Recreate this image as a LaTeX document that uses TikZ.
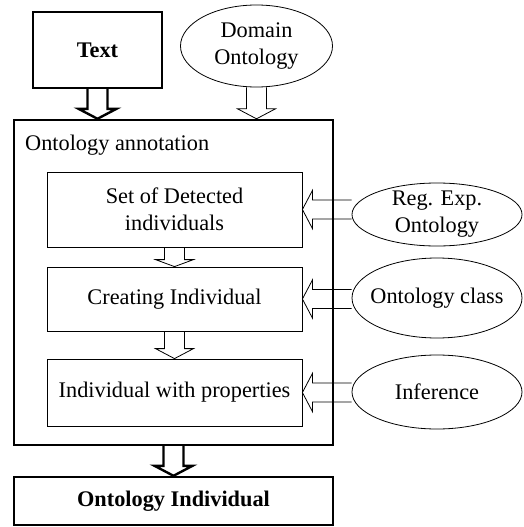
\documentclass[tikz,border=0pt]{standalone}
\usepackage{fontspec}
\setmainfont{Liberation Serif}
\usetikzlibrary{shapes.geometric,calc}
\tikzset{
  x=1pt,y=1pt,
  lbl/.style={font=\fontsize{22.3}{27}\selectfont,align=center},
  thinbox/.style={draw,line width=0.8pt,rectangle,inner sep=0pt,lbl},
  thickbox/.style={draw,line width=2.4pt,rectangle,inner sep=0pt,lbl,font=\fontsize{22.3}{27}\selectfont\bfseries},
  ell/.style={draw,line width=0.8pt,ellipse,inner sep=0pt},
  thinarr/.style={draw,line width=0.8pt,line join=miter},
  thickarr/.style={draw,line width=2.4pt,line join=miter},
}
% vertical down block arrow: #1 style, #2 start, #3 tip, #4 head length
\newcommand\blkdown[4]{%
  \path[#1] let \p1=(#2), \p2=(#3) in
    (\x2-10pt,\y1) -- (\x2-10pt,\y2+#4) -- (\x2-19pt,\y2+#4) -- (\x2,\y2)
    -- (\x2+19pt,\y2+#4) -- (\x2+10pt,\y2+#4) -- (\x2+10pt,\y1);}
% horizontal left block arrow: #1 style, #2 start, #3 tip, #4 head length
\newcommand\blkleft[4]{%
  \path[#1] let \p1=(#2), \p2=(#3) in
    (\x1,\y2+9.5pt) -- (\x2+#4,\y2+9.5pt) -- (\x2+#4,\y2+19pt) -- (\x2,\y2)
    -- (\x2+#4,\y2-19pt) -- (\x2+#4,\y2-9.5pt) -- (\x1,\y2-9.5pt);}
\begin{document}
\begin{tikzpicture}
\useasboundingbox (0,0) rectangle (523,-527);
\node[thickbox,minimum width=129pt,minimum height=76pt] (text) at (97.5,-50) {Text};
\node[ell,minimum width=152pt,minimum height=82pt] (dom) at (256.5,-46) {};
\node[lbl] (domt) at (dom) {Domain\\Ontology};
\node[draw,line width=2.4pt,rectangle,inner sep=0pt,minimum width=319pt,minimum height=325pt] (outer) at (173.5,-282.5) {};
\node[lbl,anchor=base west,inner sep=0pt] (olab) at (25,-150) {Ontology annotation};
\node[thinbox,minimum width=255pt,minimum height=75pt] (b1) at (174.5,-209.5) {Set of Detected\\individuals};
\node[thinbox,minimum width=255pt,minimum height=64pt] (b2) at (174.5,-299) {Creating Individual};
\node[thinbox,minimum width=255pt,minimum height=67pt] (b3) at (174.5,-392.5) {Individual with properties};
\node[ell,minimum width=170pt,minimum height=63pt] (e1) at (437,-214.5) {};
\node[lbl] (e1t) at (e1) {Reg. Exp.\\Ontology};
\node[ell,minimum width=170pt,minimum height=80pt] (e2) at (437,-298) {};
\node[lbl] (e2t) at (e2) {Ontology class};
\node[ell,minimum width=170pt,minimum height=74pt] (e3) at (437,-392) {};
\node[lbl] (e3t) at (e3) {Inference};
\node[thickbox,minimum width=319pt,minimum height=48pt] (fin) at (173.5,-501) {Ontology Individual};
% vertical arrows
\blkdown{thickarr}{text.south}{text.south |- outer.north}{10pt}
\blkdown{thinarr}{dom.south}{dom.south |- outer.north}{10pt}
\blkdown{thinarr}{b1.south}{b2.north}{7pt}
\blkdown{thinarr}{b2.south}{b3.north}{10pt}
\blkdown{thickarr}{outer.south}{fin.north}{10pt}
% horizontal arrows
\blkleft{thinarr}{e1.west}{b1.east}{10pt}
\blkleft{thinarr}{e2.west}{b2.east}{10pt}
\blkleft{thinarr}{e3.west}{b3.east}{10pt}
\end{tikzpicture}
\end{document}
